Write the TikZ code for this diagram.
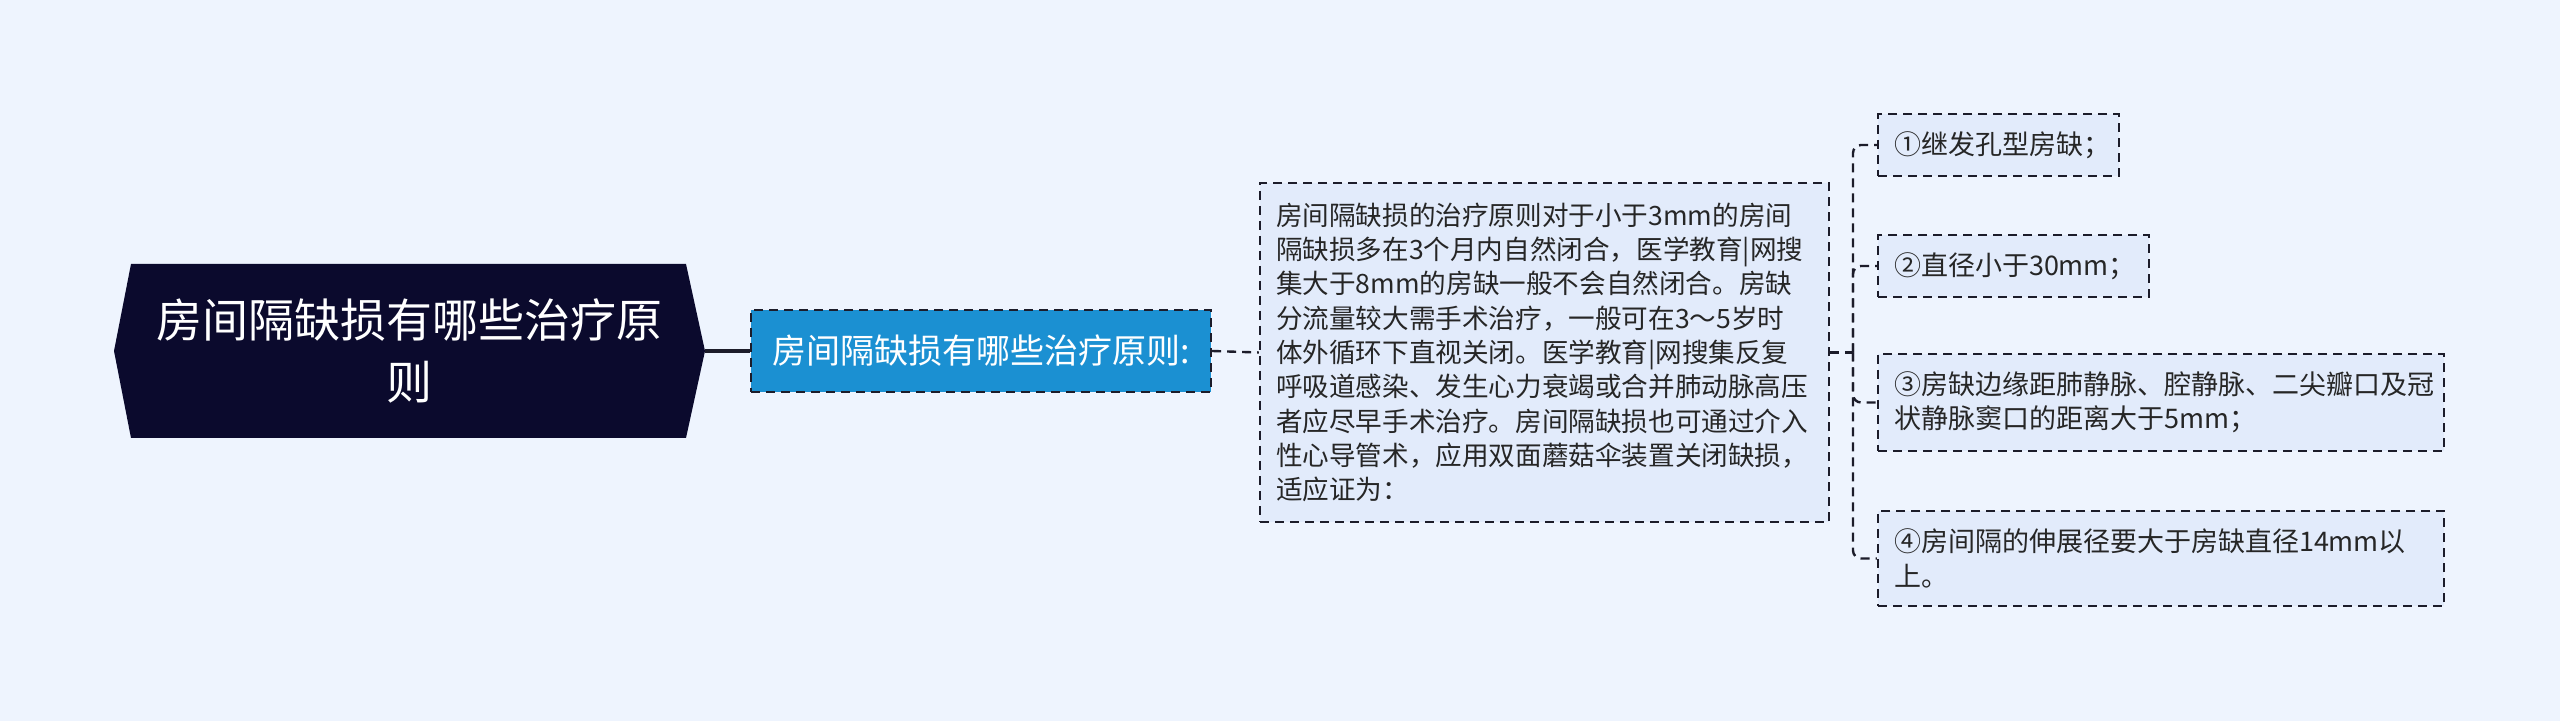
\documentclass[tikz,border=0pt]{standalone}
\usepackage{fontspec}
\setmainfont{Noto Sans CJK SC}
\definecolor{bg}{HTML}{EEF4FE}
\definecolor{rootc}{HTML}{0B0A2D}
\definecolor{bluec}{HTML}{1B90D2}
\definecolor{boxc}{HTML}{E2EBFB}
\definecolor{linec}{HTML}{1C1C2A}
\definecolor{txt}{HTML}{262626}
\begin{document}
\begin{tikzpicture}[x=0.5pt,y=-0.5pt,
  dbox/.style={draw=linec, line width=1.2pt, dash pattern=on 4.5pt off 3pt, fill=boxc, text=txt,
    inner xsep=8pt, inner ysep=0pt, align=left, anchor=center},
  conn/.style={draw=linec, line width=1.2pt, dash pattern=on 4.5pt off 3pt},
  leaf/.style={dbox, font=\fontsize{13.5}{17.1}\selectfont}]
\fill[bg] (0,0) rectangle (2560,721);
\useasboundingbox (0,0) rectangle (2560,721);
% root
\fill[rootc] (114,351) -- (131,264) -- (686,264) -- (705,351) -- (686,438) -- (131,438) -- cycle;
\node[text=white, font=\fontsize{23}{31}\selectfont, align=center, minimum width=277.5pt, minimum height=87pt] (root) at (409.5,351) {房间隔缺损有哪些治疗原\\则};
\coordinate (rootR) at (705,351);
% level 1
\node[draw=linec, line width=1.2pt, dash pattern=on 4.5pt off 3pt, fill=bluec, text=white,
  font=\fontsize{17}{20}\selectfont, minimum width=230pt, minimum height=41pt, inner sep=0pt] (l1) at (981,351) {房间隔缺损有哪些治疗原则:};
% level 2
\node[dbox, font=\fontsize{13.3}{17.15}\selectfont, text width=268.5pt, minimum height=169.5pt] (l2) at (1544.5,352.5) {房间隔缺损的治疗原则对于小于3mm的房间\\隔缺损多在3个月内自然闭合，医学教育|网搜\\集大于8mm的房缺一般不会自然闭合。房缺\\分流量较大需手术治疗，一般可在3～5岁时\\体外循环下直视关闭。医学教育|网搜集反复\\呼吸道感染、发生心力衰竭或合并肺动脉高压\\者应尽早手术治疗。房间隔缺损也可通过介入\\性心导管术，应用双面蘑菇伞装置关闭缺损，\\适应证为：};
% leaves
\node[leaf, text width=104.5pt, minimum height=31pt] (a) at (1998.5,145) {①继发孔型房缺；};
\node[leaf, text width=119.5pt, minimum height=31pt] (b) at (2013.5,266) {②直径小于30mm；};
\node[leaf, text width=267pt, minimum height=48.5pt] (c) at (2161,402.5) {③房缺边缘距肺静脉、腔静脉、二尖瓣口及冠\\状静脉窦口的距离大于5mm；};
\node[leaf, text width=267pt, minimum height=47.5pt] (d) at (2161,558.5) {④房间隔的伸展径要大于房缺直径14mm以\\上。};
% connectors
\draw[linec, line width=2pt] (rootR) -- (l1.west);
\draw[conn] (l1.east) -- (l2.west);
\coordinate (bus) at (1853,352.5);
\draw[conn] (l2.east) -- (bus);
\draw[conn, rounded corners=4pt] (bus) |- (a.west);
\draw[conn, rounded corners=4pt] (bus) |- (b.west);
\draw[conn, rounded corners=4pt] (bus) |- (c.west);
\draw[conn, rounded corners=4pt] (bus) |- (d.west);
\end{tikzpicture}
\end{document}
